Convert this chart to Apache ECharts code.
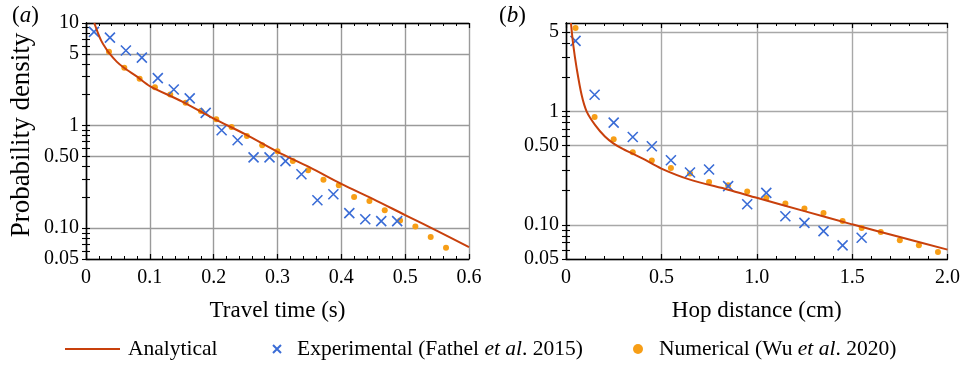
<!DOCTYPE html>
<html>
<head>
<meta charset="utf-8">
<script src="https://cdn.jsdelivr.net/npm/echarts@6/dist/echarts.min.js"></script>
<style>
  html, body { margin: 0; padding: 0; background: #fff; }
  #chart { width: 963px; height: 365px; }
</style>
</head>
<body>
<div id="chart"></div>
<script>
// (a) travel time (s)
const expTimeA = [0.0125, 0.0375, 0.0625, 0.0875, 0.1125, 0.1375, 0.1625, 0.1875, 0.2125, 0.2375,
  0.2625, 0.2875, 0.3125, 0.3375, 0.3625, 0.3875, 0.4125, 0.4375, 0.4625, 0.4875]
const expDensA = [8.2, 7.2, 5.4, 4.6, 2.9, 2.25, 1.84, 1.33, 0.90, 0.72,
  0.49, 0.49, 0.45, 0.335, 0.187, 0.214, 0.140, 0.122, 0.117, 0.117]
const numTimeA = [0.036, 0.060, 0.084, 0.108, 0.132, 0.156, 0.180, 0.204, 0.228, 0.252, 0.276, 0.300,
  0.324, 0.348, 0.372, 0.396, 0.420, 0.444, 0.468, 0.492, 0.516, 0.540, 0.564]
const numDensA = [5.24, 3.66, 2.86, 2.36, 2.01, 1.67, 1.39, 1.15, 0.97, 0.79, 0.644, 0.562,
  0.452, 0.367, 0.297, 0.262, 0.201, 0.184, 0.149, 0.119, 0.104, 0.082, 0.0645]
const anaTimeA = [0.013, 0.018, 0.024, 0.030, 0.036, 0.048, 0.060, 0.080, 0.100, 0.150, 0.200,
  0.250, 0.300, 0.350, 0.400, 0.450, 0.500, 0.550, 0.600]
const anaDensA = [10, 8.2, 6.7, 5.8, 5.1, 4.2, 3.64, 3.0, 2.43, 1.72, 1.17,
  0.82, 0.555, 0.393, 0.27, 0.192, 0.134, 0.094, 0.0653]

// (b) hop distance (cm)
const expDistB = [0.05, 0.15, 0.25, 0.35, 0.45, 0.55, 0.65, 0.75, 0.85, 0.95, 1.05, 1.15, 1.25, 1.35, 1.45, 1.55]
const expDensB = [4.17, 1.40, 0.796, 0.594, 0.492, 0.371, 0.289, 0.307, 0.219, 0.152, 0.191, 0.119,
  0.104, 0.088, 0.066, 0.077]
const numDistB = [0.05, 0.15, 0.25, 0.35, 0.45, 0.55, 0.65, 0.75, 0.85, 0.95, 1.05, 1.15, 1.25, 1.35,
  1.45, 1.55, 1.65, 1.75, 1.85, 1.95]
const numDensB = [5.42, 0.891, 0.567, 0.436, 0.368, 0.317, 0.283, 0.238, 0.223, 0.197, 0.172, 0.154,
  0.139, 0.127, 0.108, 0.094, 0.0865, 0.0731, 0.066, 0.0577]
const anaDistB = [0.026, 0.038, 0.056, 0.082, 0.108, 0.152, 0.204, 0.250, 0.300, 0.400, 0.500, 0.650,
  0.850, 1.000, 1.250, 1.500, 1.750, 2.000]
const anaDensB = [6.0, 3.84, 2.39, 1.39, 1.0, 0.76, 0.60, 0.52, 0.465, 0.385, 0.313, 0.25,
  0.204, 0.173, 0.132, 0.101, 0.078, 0.0605]

// tick labels
const yLabelValsA = [0.05, 0.1, 0.5, 1, 5, 10]
const yLabelTextA = ['0.05', '0.10', '0.50', '1', '5', '10']
const yMinorValsA = [0.06, 0.07, 0.08, 0.09, 0.2, 0.3, 0.4, 0.6, 0.7, 0.8, 0.9, 2, 3, 4, 6, 7, 8, 9]
const yLabelValsB = [0.05, 0.1, 0.5, 1, 5]
const yLabelTextB = ['0.05', '0.10', '0.50', '1', '5']
const yMinorValsB = [0.06, 0.07, 0.08, 0.09, 0.2, 0.3, 0.4, 0.6, 0.7, 0.8, 0.9, 2, 3, 4]

const NAME_ANA = 'Analytical'
const NAME_EXP = 'Experimental (Fathel et al. 2015)'
const NAME_NUM = 'Numerical (Wu et al. 2020)'

const FONT = 'Liberation Serif'
const LINE_COLOR = '#c8400c'
const EXP_COLOR = '#3a6cd6'
const NUM_COLOR = '#f79e16'
const CROSS = 'path://M0,0L10,10M10,0L0,10'

const zip = (xs, ys) => xs.map((x, i) => [x, ys[i]])

function xAxes(gridIndex, max, interval, name, gridColor) {
  const base = {
    gridIndex,
    type: 'value',
    min: 0,
    max,
    interval,
    axisLine: { show: true, onZero: false, lineStyle: { color: '#000', width: 1.3 } },
    axisTick: { show: true, inside: true, length: 5, lineStyle: { color: '#000', width: 1.2 } },
    minorTick: { show: true, splitNumber: 5, length: 3, lineStyle: { color: '#000', width: 1 } }
  }
  return [
    Object.assign({}, base, {
      position: 'bottom',
      name,
      nameLocation: 'middle',
      nameGap: 40,
      nameTextStyle: { fontFamily: FONT, fontSize: 23, color: '#000' },
      axisLabel: {
        margin: 9,
        fontFamily: FONT,
        fontSize: 20,
        color: '#000',
        formatter: v => (v === 0 ? '0' : v.toFixed(1))
      },
      splitLine: { show: true, lineStyle: { color: gridColor, width: 1.4 } }
    }),
    Object.assign({}, base, {
      position: 'top',
      axisLabel: { show: false },
      splitLine: { show: false }
    })
  ]
}

function yAxes(gridIndex, max, labelVals, labelText, minorVals, name, gridColor) {
  const base = {
    gridIndex,
    type: 'log',
    logBase: 10,
    min: 0.05,
    max
  }
  const allTicks = labelVals.concat(minorVals)
  return [
    Object.assign({}, base, {
      position: 'left',
      name,
      nameLocation: 'middle',
      nameGap: 51,
      nameTextStyle: { fontFamily: FONT, fontSize: 27, color: '#000', padding: [0, 0, 0, 12] },
      axisLine: { show: true, lineStyle: { color: '#000', width: 1.3 } },
      axisTick: { show: true, inside: true, length: 4, customValues: allTicks, lineStyle: { color: '#000', width: 1.1 } },
      axisLabel: {
        margin: 7,
        fontFamily: FONT,
        fontSize: 20,
        color: '#000',
        customValues: labelVals,
        formatter: v => {
          const i = labelVals.findIndex(l => Math.abs(l - v) < 1e-9)
          return i >= 0 ? labelText[i] : ''
        }
      },
      splitLine: { show: false }
    }),
    Object.assign({}, base, {
      position: 'right',
      axisLine: { show: true, lineStyle: { color: '#000', width: 1.3 } },
      axisTick: { show: true, inside: true, length: 4, customValues: allTicks, lineStyle: { color: '#000', width: 1.1 } },
      axisLabel: { show: false },
      splitLine: { show: false }
    }),
    // gridlines only
    Object.assign({}, base, {
      position: 'left',
      axisLine: { show: false },
      axisTick: { show: false, customValues: labelVals },
      axisLabel: { show: false },
      splitLine: { show: true, lineStyle: { color: gridColor, width: 1.4 } }
    })
  ]
}

const LEG_SIZE = 21.5
const legendText = {
  fontFamily: FONT,
  fontSize: LEG_SIZE,
  color: '#000',
  rich: {
    n: { fontFamily: FONT, fontSize: LEG_SIZE, color: '#000' },
    i: { fontFamily: FONT, fontSize: LEG_SIZE, color: '#000', fontStyle: 'italic' }
  }
}
const legendFormatter = name => {
  if (name === NAME_EXP) return '{n|Experimental (Fathel }{i|et al}{n|. 2015)}'
  if (name === NAME_NUM) return '{n|Numerical (Wu }{i|et al}{n|. 2020)}'
  return '{n|' + name + '}'
}

function panelSeries(xIndex, yIndex, exp, num, ana) {
  return [
    {
      name: NAME_NUM,
      type: 'scatter',
      xAxisIndex: xIndex,
      yAxisIndex: yIndex,
      symbol: 'circle',
      symbolSize: 6,
      itemStyle: { color: NUM_COLOR, opacity: 1 },
      data: num,
      z: 3
    },
    {
      name: NAME_EXP,
      type: 'scatter',
      xAxisIndex: xIndex,
      yAxisIndex: yIndex,
      symbol: CROSS,
      symbolSize: 10,
      itemStyle: { color: EXP_COLOR, borderColor: EXP_COLOR, borderWidth: 1.6, opacity: 1 },
      data: exp,
      z: 4
    },
    {
      name: NAME_ANA,
      type: 'line',
      xAxisIndex: xIndex,
      yAxisIndex: yIndex,
      showSymbol: false,
      symbol: 'none',
      smooth: 0.3,
      lineStyle: { color: LINE_COLOR, width: 2 },
      itemStyle: { color: LINE_COLOR },
      data: ana,
      z: 5
    }
  ]
}

const chart = echarts.init(document.getElementById('chart'))
chart.setOption({
  animation: false,
  backgroundColor: '#fff',
  grid: [
    { left: 86, top: 23, width: 383, height: 236 },
    { left: 566, top: 23, width: 383, height: 236 }
  ],
  xAxis: [
    ...xAxes(0, 0.6, 0.1, 'Travel time (s)', '#9a9a9a'),
    ...xAxes(1, 2.0, 0.5, 'Hop distance (cm)', '#a8a8a8')
  ],
  yAxis: [
    ...yAxes(0, 10, yLabelValsA, yLabelTextA, yMinorValsA, 'Probability density', '#9a9a9a'),
    ...yAxes(1, 6, yLabelValsB, yLabelTextB, yMinorValsB, '', '#a8a8a8')
  ],
  legend: [
    {
      data: [{ name: NAME_ANA, icon: 'rect' }], left: 65, top: 338, padding: 0, itemWidth: 55, itemHeight: 2,
      textStyle: Object.assign({ padding: [0, 0, 0, 3] }, legendText), formatter: legendFormatter
    },
    {
      data: [NAME_EXP], left: 272, top: 338, padding: 0, itemWidth: 8, itemHeight: 8,
      textStyle: Object.assign({ padding: [0, 0, 0, 11] }, legendText), formatter: legendFormatter
    },
    {
      data: [NAME_NUM], left: 633, top: 338, padding: 0, itemWidth: 10, itemHeight: 10,
      textStyle: Object.assign({ padding: [0, 0, 0, 11] }, legendText), formatter: legendFormatter
    }
  ],
  graphic: [
    {
      type: 'text', left: 12, top: 4,
      style: {
        text: '{p|(}{i|a}{p|)}',
        rich: {
          p: { fontFamily: FONT, fontSize: 23, fill: '#000' },
          i: { fontFamily: FONT, fontSize: 23, fill: '#000', fontStyle: 'italic' }
        }
      }
    },
    {
      type: 'text', left: 499, top: 4,
      style: {
        text: '{p|(}{i|b}{p|)}',
        rich: {
          p: { fontFamily: FONT, fontSize: 23, fill: '#000' },
          i: { fontFamily: FONT, fontSize: 23, fill: '#000', fontStyle: 'italic' }
        }
      }
    }
  ],
  series: [
    ...panelSeries(0, 0, zip(expTimeA, expDensA), zip(numTimeA, numDensA), zip(anaTimeA, anaDensA)),
    ...panelSeries(2, 3, zip(expDistB, expDensB), zip(numDistB, numDensB), zip(anaDistB, anaDensB))
  ]
})
</script>
</body>
</html>
